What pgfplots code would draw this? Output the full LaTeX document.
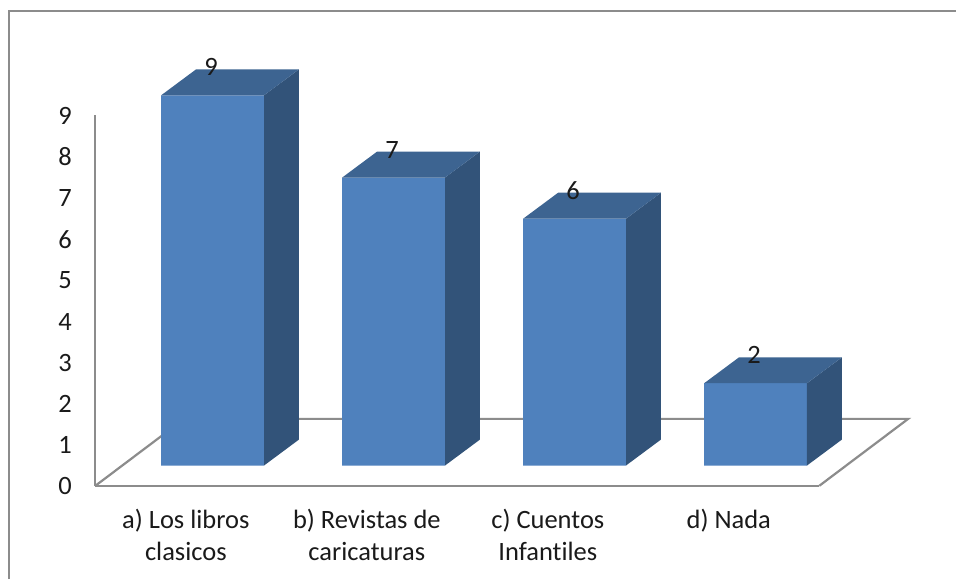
\documentclass[border=0pt]{standalone}
\usepackage{fontspec}
\setmainfont[Ligatures=NoCommon]{Carlito}
\usepackage{pgfplots}
\pgfplotsset{compat=1.18}
\definecolor{front}{HTML}{4F81BD}
\definecolor{topf}{HTML}{3D6491}
\definecolor{sidef}{HTML}{325379}
\definecolor{grayl}{HTML}{8C8C8C}
\definecolor{txt}{HTML}{1A1A1A}
\begin{document}
\begin{tikzpicture}[x=1pt,y=1pt]
\fill[white] (0,0) rectangle (957,580);
\draw[grayl,line width=2.8pt] (9,0) -- (9,569) -- (957,569);
% value axis, categories, floor
\begin{axis}[
  at={(95.5pt,93.5pt)},anchor=south west,
  scale only axis,width=725pt,height=371pt,
  xmin=-0.5,xmax=3.5,ymin=0,ymax=9,
  clip=false,
  axis x line=bottom,axis y line=left,
  axis line style={grayl,line width=2.2pt,-},
  major tick length=0pt,
  xtick={0,1,2,3},
  xticklabels={{a) Los libros\\clasicos},{b) Revistas de\\caricaturas},{c) Cuentos\\Infantiles},{d) Nada}},
  ytick={0,1,2,3,4,5,6,7,8,9},
  /pgf/number format/assume math mode=true,
  tick label style={font=\fontsize{26.5}{32}\selectfont,text=txt},
  xticklabel style={align=center,anchor=north,yshift=-19.5pt},
  yticklabel style={anchor=east,xshift=-20pt,yshift=-0.5pt},
]
\addplot[grayl,line width=2.2pt] coordinates {(3.5,0) (3.991,1.626) (-0.009,1.626) (-0.5,0)};
\end{axis}
% bars
\begin{axis}[
  at={(122.3pt,113.8pt)},anchor=south west,
  scale only axis,width=725pt,height=370.8pt,
  xmin=-0.5,xmax=3.5,ymin=0,ymax=9,
  clip=false,hide axis,
  /pgf/number format/assume math mode=true,
]
\addplot[ybar,bar width=103pt,fill=front,draw=none] coordinates {(0,9) (1,7) (2,6) (3,2)};
\addplot[fill=sidef,draw=none] coordinates {(0.2841,0) (0.4772,0.631) (0.4772,9.631) (0.2841,9)} -- cycle;
\addplot[fill=topf,draw=none] coordinates {(-0.2841,9) (0.2841,9) (0.4772,9.631) (-0.0910,9.631)} -- cycle;
\addplot[fill=sidef,draw=none] coordinates {(1.2841,0) (1.4772,0.631) (1.4772,7.631) (1.2841,7)} -- cycle;
\addplot[fill=topf,draw=none] coordinates {(0.7159,7) (1.2841,7) (1.4772,7.631) (0.9090,7.631)} -- cycle;
\addplot[fill=sidef,draw=none] coordinates {(2.2841,0) (2.4772,0.631) (2.4772,6.631) (2.2841,6)} -- cycle;
\addplot[fill=topf,draw=none] coordinates {(1.7159,6) (2.2841,6) (2.4772,6.631) (1.9090,6.631)} -- cycle;
\addplot[fill=sidef,draw=none] coordinates {(3.2841,0) (3.4772,0.631) (3.4772,2.631) (3.2841,2)} -- cycle;
\addplot[fill=topf,draw=none] coordinates {(2.7159,2) (3.2841,2) (3.4772,2.631) (2.9090,2.631)} -- cycle;
\addplot[draw=none,mark=none,nodes near coords,
  every node near coord/.style={anchor=center,yshift=28pt,xshift=-1.5pt,text=txt,font=\fontsize{26.5}{32}\selectfont}]
  coordinates {(0,9) (1,7) (2,6) (3,2)};
\end{axis}
\end{tikzpicture}
\end{document}
